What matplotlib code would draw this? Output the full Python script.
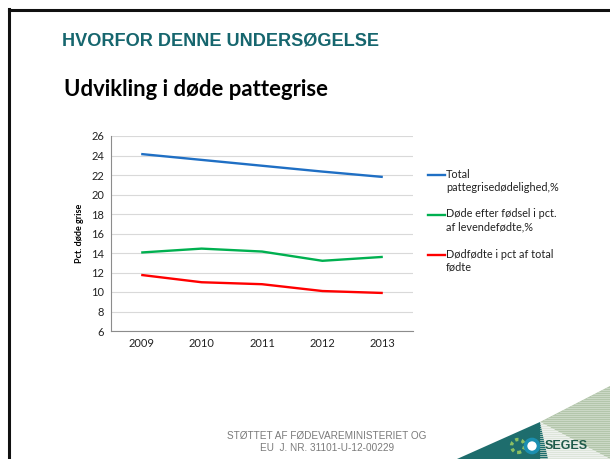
import matplotlib
matplotlib.use('Agg')
import matplotlib.pyplot as plt
from matplotlib.patches import Polygon, Ellipse
from matplotlib.lines import Line2D

years = ['2009', '2010', '2011', '2012', '2013']
total_dead = [24.15, 23.55, 22.95, 22.35, 21.8]
dead_after_birth = [14.05, 14.45, 14.15, 13.2, 13.6]
stillborn = [11.75, 11.0, 10.8, 10.1, 9.9]
series_names = ['Total\npattegrisedødelighed,%',
                'Døde efter fødsel i pct.\naf levendefødte,%',
                'Dødfødte i pct af total\nfødte']
series_colors = ['#1f6fc4', '#00b050', '#ff0000']
y_ticks = list(range(6, 27, 2))

W, H = 610, 459
fig = plt.figure(figsize=(W / 100, H / 100), dpi=100)
fig.patch.set_facecolor('white')


def px(pts):
    return [(a / W, 1 - b / H) for a, b in pts]


# slide frame
fig.add_artist(Line2D([8.5 / W, 8.5 / W], [0, 1 - 8.5 / H], color='#111111', lw=2.2))
fig.add_artist(Line2D([8.5 / W, 1], [1 - 9.5 / H, 1 - 9.5 / H], color='#111111', lw=2.2))

fig.text(61.5 / W, 1 - 41 / H, 'HVORFOR DENNE UNDERSØGELSE', color='#16666e',
         fontsize=13.05, fontweight='bold', family='Liberation Sans', va='center')
fig.text(64 / W, 1 - 90 / H, 'Udvikling i døde pattegrise', color='black',
         fontsize=15.9, fontweight='bold', family='Lato', va='center')

ax = fig.add_axes([111 / W, 1 - 331 / H, 302 / W, 195 / H])
x = list(range(len(years)))
for vals, col in zip([total_dead, dead_after_birth, stillborn], series_colors):
    ax.plot(x, vals, color=col, lw=1.7, solid_capstyle='butt')

ax.set_xlim(-0.5, len(years) - 0.5)
ax.set_ylim(6, 26)
ax.set_yticks(y_ticks)
ax.set_xticks(x)
ax.set_xticklabels(years)
ax.grid(axis='y', color='#d9d9d9', lw=0.8)
ax.set_axisbelow(True)
for s in ['top', 'right']:
    ax.spines[s].set_visible(False)
for s in ['left', 'bottom']:
    ax.spines[s].set_color('#8c8c8c')
    ax.spines[s].set_linewidth(0.8)
ax.tick_params(length=0, labelsize=8, pad=5, colors='#222222')
for lab in ax.get_xticklabels() + ax.get_yticklabels():
    lab.set_family('Lato')
ax.set_ylabel('Pct. døde grise', fontsize=6.5, fontweight='bold', family='Lato', labelpad=5)

# legend drawn by hand to mimic the office layout
leg_y = [175, 215, 255]
for name, col, yy in zip(series_names, series_colors, leg_y):
    fig.add_artist(Line2D([428 / W, 445 / W], [1 - yy / H, 1 - yy / H], color=col, lw=1.7))
    fig.text(446 / W, 1 - (yy - 6.5) / H, name, fontsize=7.8, family='Lato', va='top',
             linespacing=1.25, color='#222222')

# footer
fig.text(327 / W, 1 - 436 / H, 'STØTTET AF FØDEVAREMINISTERIET OG', fontsize=7.2,
         family='Liberation Sans', color='#7a7a7a', ha='center', va='center')
fig.text(327 / W, 1 - 448 / H, 'EU  J. NR. 31101-U-12-00229', fontsize=7.2,
         family='Liberation Sans', color='#7a7a7a', ha='center', va='center')

# corner decoration
fig.add_artist(Polygon(px([(540, 422), (610, 386), (610, 459)]),
                       closed=True, facecolor='#b3c6ab', edgecolor='none'))
for k in range(0, 75, 2):
    # pale stripes across the green wedge
    yy = 386 + k
    fig.add_artist(Line2D([max(540, 610 - k * 1.94) / W, 610 / W], [1 - yy / H, 1 - yy / H],
                          color='#d6e1d2', lw=0.5))
fig.add_artist(Polygon(px([(540, 422), (610, 459), (548, 459)]),
                       closed=True, facecolor='#eef1ee', edgecolor='none'))
fig.add_artist(Polygon(px([(457, 459), (540, 422), (548, 459)]),
                       closed=True, facecolor='#1e6d6d', edgecolor='none'))
fig.add_artist(Ellipse((518 / W, 1 - 446 / H), 13 / W, 13 / H, transform=fig.transFigure,
                       facecolor='#1e6d6d', edgecolor='#8cc063', lw=2.4, ls=(0, (1, 1))))
fig.add_artist(Ellipse((532 / W, 1 - 446 / H), 13 / W, 13 / H, transform=fig.transFigure,
                       facecolor='white', edgecolor='#1b8fb0', lw=2.6))
fig.text(566 / W, 1 - 446 / H, 'SEGES', fontsize=9, fontweight='bold', family='Liberation Sans',
         color='#1e5a4a', ha='center', va='center')

fig.savefig('out.png', dpi=100)
